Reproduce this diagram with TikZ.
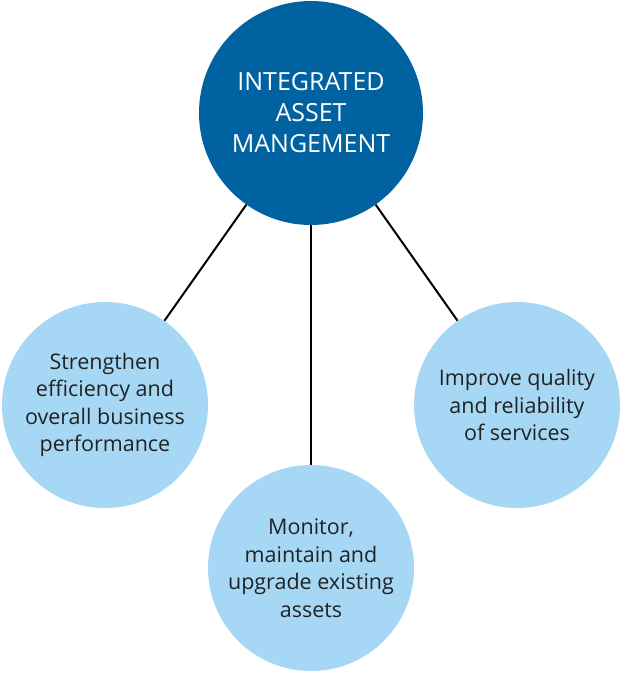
\documentclass[tikz,border=0pt]{standalone}
\usepackage{fontspec}
\setmainfont{Open Sans}
\usepackage{tikz}

\definecolor{hubblue}{HTML}{0062A0}
\definecolor{goalblue}{HTML}{A6D8F5}
\definecolor{goaltext}{HTML}{222222}

\tikzset{
  hub/.style={circle, fill=hubblue, minimum size=224pt, inner sep=0pt,
    align=center, text=white, font=\fontsize{25}{31}\selectfont},
  goal/.style={circle, fill=goalblue, minimum size=206pt, inner sep=0pt,
    align=center, text=goaltext, font=\fontsize{21.5}{27.5}\selectfont},
  spoke/.style={line width=2pt, black}
}

\begin{document}
\begin{tikzpicture}[x=1pt, y=-1pt]
  \useasboundingbox (0,0) rectangle (621,675);

  \node (hub)   at (311,113) [hub]  {INTEGRATED\\ASSET\\MANGEMENT};
  \node (left)  at (105,405) [goal] {Strengthen\\efficiency and\\overall business\\performance};
  \node (down)  at (311,568) [goal] {Monitor,\\maintain and\\upgrade existing\\assets};
  \node (right) at (517,405) [goal] {Improve quality\\and reliability\\of services};

  \draw[spoke] (hub) -- (left);
  \draw[spoke] (hub) -- (down);
  \draw[spoke] (hub) -- (right);
\end{tikzpicture}
\end{document}
